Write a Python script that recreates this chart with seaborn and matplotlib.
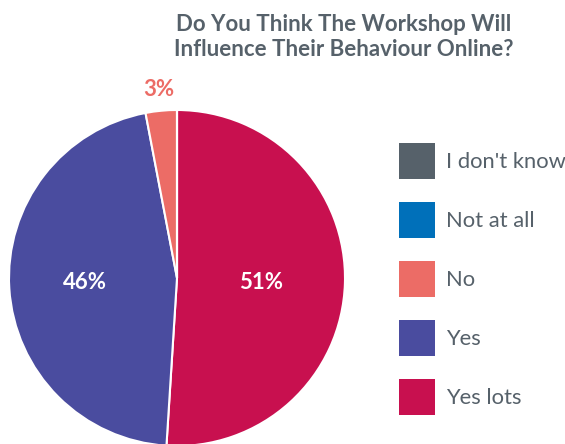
import matplotlib
matplotlib.use("Agg")
import matplotlib.pyplot as plt
import seaborn as sns
from matplotlib.patches import Patch

categories = ["Yes lots", "Yes", "No", "Not at all", "I don't know"]
values = [51, 46, 3, 0, 0]
colors = ["#C8104F", "#4A4C9F", "#EC6C66", "#0070BA", "#56616A"]
legend_order = ["I don't know", "Not at all", "No", "Yes", "Yes lots"]
title = "Do You Think The Workshop Will\nInfluence Their Behaviour Online?"

sns.set_theme(style="white")
plt.rcParams["font.family"] = ["Lato", "DejaVu Sans"]

fig = plt.figure(figsize=(5.65, 4.44), dpi=100)
W, H = 565, 444
cx, cy, r = 177, 278, 168
ax = fig.add_axes([(cx - r) / W, (H - cy - r) / H, 2 * r / W, 2 * r / H])

wedges, texts, autotexts = ax.pie(
    values, colors=colors, startangle=90, counterclock=False,
    autopct=lambda p: f"{p:.0f}%" if p > 0.5 else "",
    pctdistance=0.52, radius=1,
    wedgeprops=dict(edgecolor="white", linewidth=1.5),
    textprops=dict(color="white", fontsize=16, fontweight="bold"),
)
ax.set_xlim(-1, 1)
ax.set_ylim(-1, 1)
ax.set_aspect("equal")
ax.axis("off")

autotexts[0].set_position((0.5, -0.027))
autotexts[1].set_position((-0.545, -0.027))
# small slice label outside
autotexts[2].set_position((-0.11, 1.12))
autotexts[2].set_color(colors[2])

fig.text(344 / W, 1 - 37 / H, title, ha="center", va="center",
         fontsize=16, fontweight="bold", color="#56616A", linespacing=1.25)

fs = 15.8
fpx = fs * 100 / 72
box = 36 / fpx
hh = (box - 0.245) / 0.65
handles = [Patch(facecolor=colors[categories.index(c)], edgecolor="none") for c in legend_order]
leg = fig.legend(handles, legend_order, loc="upper left",
                 bbox_to_anchor=(399 / W, 1 - 143 / H), frameon=False,
                 borderaxespad=0, borderpad=0,
                 fontsize=fs, handlelength=box, handleheight=hh,
                 labelspacing=23 / fpx, handletextpad=11 / fpx,
                 labelcolor="#56616A")

fig.savefig("out.png", dpi=100)
